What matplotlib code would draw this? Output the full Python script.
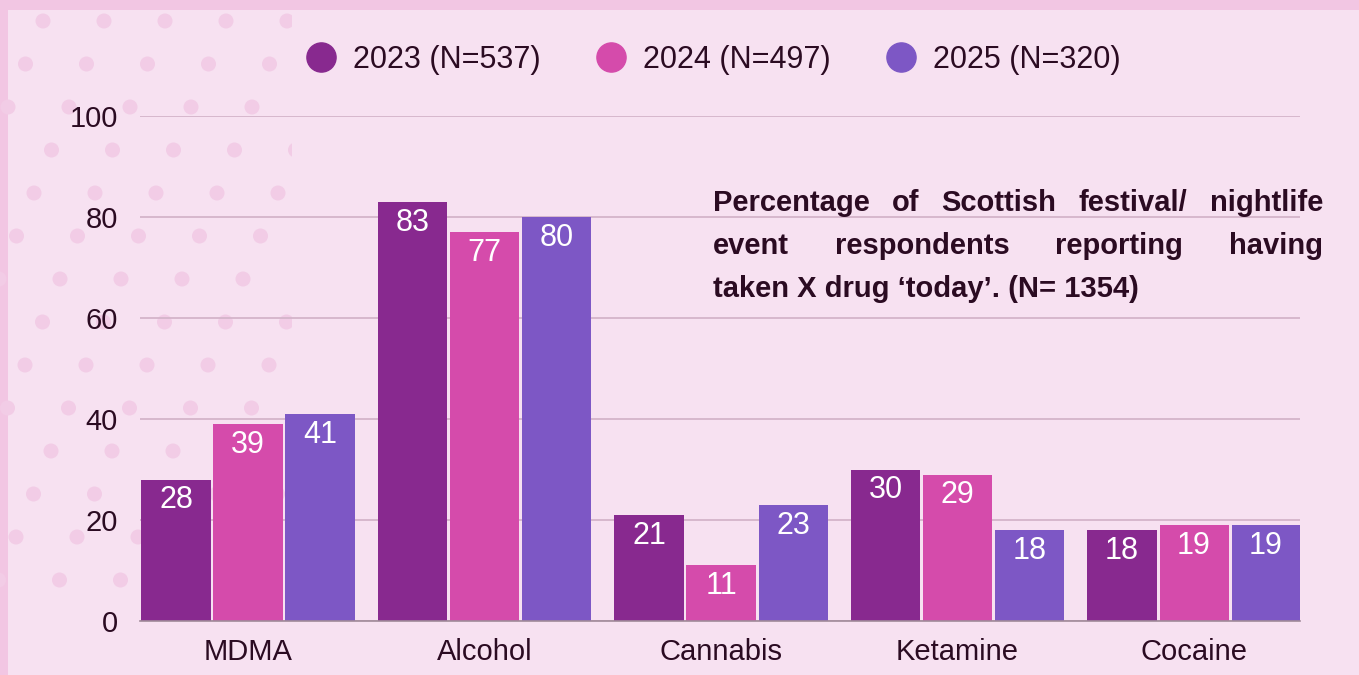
import matplotlib
matplotlib.use("Agg")
import matplotlib.pyplot as plt
import numpy as np
from matplotlib.lines import Line2D
from matplotlib.patches import Circle, Rectangle

drugs = ["MDMA", "Alcohol", "Cannabis", "Ketamine", "Cocaine"]
years = ["2023 (N=537)", "2024 (N=497)", "2025 (N=320)"]
v2023 = [28, 83, 21, 30, 18]
v2024 = [39, 77, 11, 29, 19]
v2025 = [41, 80, 23, 18, 19]
colors = ["#88298F", "#D54BAB", "#7D57C5"]

title_lines = [
    "Percentage of Scottish festival/ nightlife",
    "event respondents reporting having",
    "taken X drug \u2018today\u2019. (N= 1354)",
]

bg = "#F7E1F1"
dark = "#2B0B22"
plt.rcParams['font.family'] = ['Liberation Sans', 'DejaVu Sans']

fig = plt.figure(figsize=(13.59, 6.75), dpi=100, facecolor=bg)

# background decoration in pixel coords
bgax = fig.add_axes([0, 0, 1, 1], zorder=-1)
bgax.set_xlim(0, 1359)
bgax.set_ylim(675, 0)
bgax.axis("off")
bgax.add_patch(Rectangle((0, 0), 1359, 10, color="#F2C6E3", lw=0))
bgax.add_patch(Rectangle((0, 0), 8, 675, color="#F2C6E3", lw=0))
clip = Rectangle((0, 10), 292, 595, transform=bgax.transData, visible=False)
bgax.add_patch(clip)
for r in range(14):
    y = 21 + 43 * r
    x0 = (43 - 17.5 * r) % 61
    for k in range(-1, 6):
        c = bgax.add_patch(Circle((x0 + 61 * k, y), 7.5, color="#F2CCE6", lw=0))
        c.set_clip_path(clip)

ax = fig.add_axes([140 / 1359, 54 / 675, 1160 / 1359, 505 / 675])
ax.patch.set_alpha(0)

x = np.arange(len(drugs))
step = 0.3045
width = 0.292
for i, (vals, col) in enumerate(zip([v2023, v2024, v2025], colors)):
    bars = ax.bar(x + (i - 1) * step, vals, width, color=col, zorder=3)
    labels = ax.bar_label(bars, padding=-15, color="white", fontsize=22)
    for t in labels:
        t.set_va("center")

ax.set_xlim(-0.4567, 4.448)
ax.set_ylim(0, 100)
ax.set_yticks(range(0, 101, 20))
ax.set_xticks(x)
ax.set_xticklabels(drugs)
ax.grid(axis="y", color="#D4B4CA", lw=1.3, zorder=0)
ax.set_axisbelow(True)
for s in ["top", "right", "left"]:
    ax.spines[s].set_visible(False)
ax.spines["bottom"].set_color("#A08A99")
ax.spines["bottom"].set_linewidth(1.2)
ax.spines["bottom"].set_zorder(4)
ax.tick_params(axis="y", length=0, pad=16, labelsize=21, labelcolor=dark)
ax.tick_params(axis="x", length=0, pad=12, labelsize=21, labelcolor=dark)

handles = [Line2D([], [], ls="none", marker="o", markersize=21, color=c) for c in colors]
fig.legend(handles, years, loc="center", bbox_to_anchor=(0.525, 0.911), ncol=3,
           frameon=False, fontsize=22, labelcolor=dark, handlelength=1.0,
           handletextpad=0.55, columnspacing=1.8)

# justified title block
fig.canvas.draw()
renderer = fig.canvas.get_renderer()
left_px, right_px = 713, 1323
baselines = [211, 254, 297]
for li, (line, yb) in enumerate(zip(title_lines, baselines)):
    words = line.split(" ")
    yf = 1 - yb / 675
    if li == len(title_lines) - 1:
        fig.text(left_px / 1359, yf, line, fontsize=21, fontweight="bold",
                 color=dark, va="baseline", ha="left")
        continue
    texts = [fig.text(0, yf, w, fontsize=21, fontweight="bold",
                      color=dark, va="baseline", ha="left") for w in words]
    widths = [t.get_window_extent(renderer).width for t in texts]
    gap = (right_px - left_px - sum(widths)) / (len(words) - 1)
    xp = left_px
    for t, w in zip(texts, widths):
        t.set_x(xp / 1359)
        xp += w + gap

fig.savefig("out.png", dpi=100, facecolor=bg)
